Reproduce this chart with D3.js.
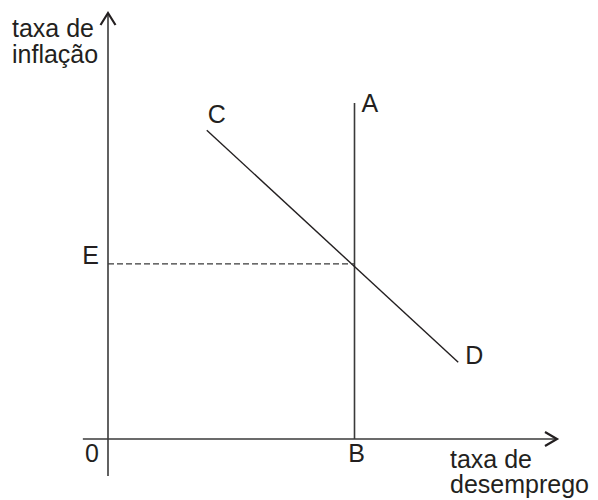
<!DOCTYPE html>
<html>
<head>
<meta charset="utf-8">
<script src="https://cdn.jsdelivr.net/npm/d3@7"></script>
<style>
  body { margin: 0; background: #fff; }
  text { font-family: "Liberation Sans", Arial, sans-serif; font-size: 25px; fill: #231f20; }
</style>
</head>
<body>
<svg id="chart"></svg>
<script>
// Diagram values (abstract units, origin = 0)
const axisExtent = { xMin: -5.6, xMax: 100, yMin: -8.7, yMax: 100 };
const verticalAB = { x: 54.9, yTop: 78.9 };
const lineCD = [{ x: 22, y: 72.5 }, { x: 78, y: 18 }];
const levelE = 41.1;
const yAxisTitle = ["taxa de", "inflação"];
const xAxisTitle = ["taxa de", "desemprego"];

const width = 598, height = 500;
const stroke = "#3a3a3a";

const svg = d3.select("#chart")
    .attr("width", width)
    .attr("height", height);

// Scales
const x = d3.scaleLinear().domain([0, 100]).range([108, 557]);
const y = d3.scaleLinear().domain([0, 100]).range([439, 13]);

// Axes
svg.append("line")
    .attr("x1", x(axisExtent.xMin)).attr("x2", x(axisExtent.xMax))
    .attr("y1", y(0)).attr("y2", y(0))
    .attr("stroke", stroke).attr("stroke-width", 1.6);

svg.append("line")
    .attr("x1", x(0)).attr("x2", x(0))
    .attr("y1", y(axisExtent.yMin)).attr("y2", y(axisExtent.yMax))
    .attr("stroke", stroke).attr("stroke-width", 1.6);

// Arrow heads (open)
const line = d3.line();
svg.append("path")
    .attr("d", line([[x(0) - 7.5, y(axisExtent.yMax) + 12], [x(0), y(axisExtent.yMax)], [x(0) + 7.5, y(axisExtent.yMax) + 12]]))
    .attr("fill", "none").attr("stroke", "#231f20").attr("stroke-width", 2.2);

svg.append("path")
    .attr("d", line([[x(axisExtent.xMax) - 12, y(0) - 7], [x(axisExtent.xMax), y(0)], [x(axisExtent.xMax) - 12, y(0) + 7]]))
    .attr("fill", "none").attr("stroke", "#231f20").attr("stroke-width", 2.2);

// Vertical line AB
svg.append("line")
    .attr("x1", x(verticalAB.x)).attr("x2", x(verticalAB.x))
    .attr("y1", y(0)).attr("y2", y(verticalAB.yTop))
    .attr("stroke", stroke).attr("stroke-width", 1.6);

// Line CD
svg.append("path")
    .attr("d", d3.line().x(d => x(d.x)).y(d => y(d.y))(lineCD))
    .attr("fill", "none").attr("stroke", "#231f20").attr("stroke-width", 1.4);

// Dashed line E
svg.append("line")
    .attr("x1", x(0)).attr("x2", x(verticalAB.x))
    .attr("y1", y(levelE)).attr("y2", y(levelE))
    .attr("stroke", stroke).attr("stroke-width", 1.2)
    .attr("stroke-dasharray", "6,3");

// Point labels
const labels = [
    { t: "C", px: x(lineCD[0].x) + 1, py: y(lineCD[0].y) - 7, anchor: "start" },
    { t: "A", px: x(verticalAB.x) + 7, py: y(verticalAB.yTop) + 9, anchor: "start" },
    { t: "E", px: x(0) - 9, py: y(levelE), anchor: "end" },
    { t: "D", px: x(lineCD[1].x) + 7, py: y(lineCD[1].y) + 2, anchor: "start" },
    { t: "0", px: x(0) - 9, py: y(0) + 23, anchor: "end" },
    { t: "B", px: x(verticalAB.x) + 2, py: y(0) + 23, anchor: "middle" }
];
svg.selectAll(".pt")
    .data(labels)
    .enter()
    .append("text")
    .attr("class", "pt")
    .attr("x", d => d.px)
    .attr("y", d => d.py)
    .attr("text-anchor", d => d.anchor)
    .text(d => d.t);

// Axis titles
svg.append("text")
    .attr("x", 12).attr("y", 37)
    .selectAll("tspan")
    .data(yAxisTitle)
    .enter()
    .append("tspan")
    .attr("x", 12)
    .attr("dy", (d, i) => i === 0 ? 0 : 26)
    .text(d => d);

svg.append("text")
    .attr("x", 450).attr("y", 468)
    .selectAll("tspan")
    .data(xAxisTitle)
    .enter()
    .append("tspan")
    .attr("x", 450)
    .attr("dy", (d, i) => i === 0 ? 0 : 25)
    .text(d => d);
</script>
</body>
</html>
